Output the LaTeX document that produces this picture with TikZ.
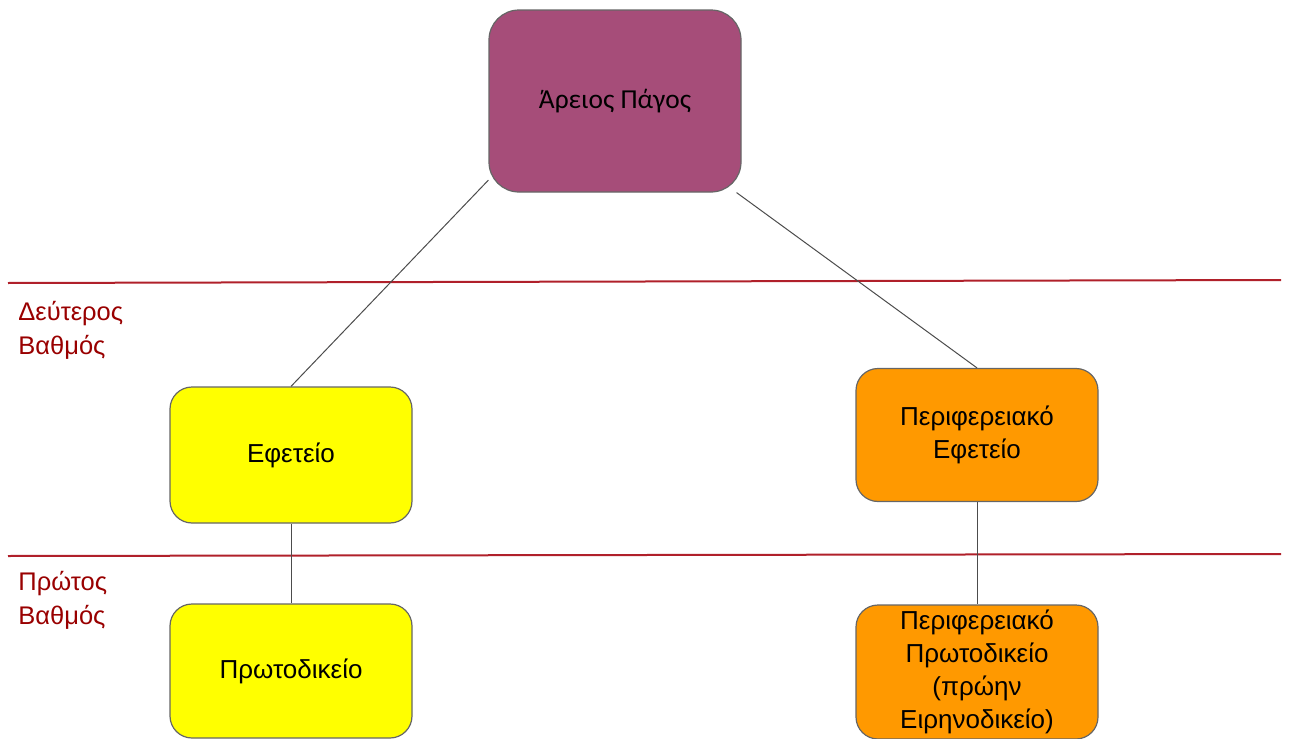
\documentclass[tikz,border=0pt]{standalone}
\usepackage{fontspec}
\setmainfont{Liberation Sans}
\newfontfamily\titlefont{Carlito}
\usepackage{tikz}
\usetikzlibrary{positioning}

\definecolor{apfill}{HTML}{A64D79}
\definecolor{yfill}{HTML}{FFFF00}
\definecolor{ofill}{HTML}{FF9900}
\definecolor{lvlred}{HTML}{B0202A}
\definecolor{lvltext}{HTML}{990000}

\begin{document}
\begin{tikzpicture}[x=0.5pt,y=-0.5pt,
        court/.style={rectangle,rounded corners=11pt,draw=black!60,line width=0.6pt,
            minimum width=121pt,minimum height=67pt,align=center,inner sep=1pt,
            font=\fontsize{13}{16.5}\selectfont},
        level/.style={anchor=west,align=left,inner sep=0pt,text=lvltext,
            font=\fontsize{12.75}{17}\selectfont},
        sep/.style={draw=lvlred,line width=1pt},
        link/.style={draw=black!70,line width=0.5pt}
    ]
    \useasboundingbox (0,0) rectangle (1292,739);

    %--- levels ---
    \coordinate (s1l) at (8,283);
    \coordinate (s1r) at (1281,280);
    \coordinate (s2l) at (8,556);
    \coordinate (s2r) at (1281,554);
    \draw[sep] (s1l) -- (s1r);
    \draw[sep] (s2l) -- (s2r);
    \node[level] (deut) at (18,330) {Δεύτερος\\Βαθμός};
    \node[level] (prot) at (18,600) {Πρώτος\\Βαθμός};

    %--- courts ---
    \node[court,fill=apfill,rounded corners=15pt,minimum width=126pt,minimum height=91pt,
        font=\titlefont\fontsize{13.7}{16}\selectfont] (ap) at (615,101) {Άρειος Πάγος};
    \node[court,fill=yfill,minimum height=68pt] (ef) at (291,455) {Εφετείο};
    \node[court,fill=yfill] (pr) at (291,671) {Πρωτοδικείο};
    \node[court,fill=ofill,minimum height=66.5pt] (pef) at (977,435) {Περιφερειακό\\Εφετείο};
    \node[court,fill=ofill] (ppr) at (977,672) {Περιφερειακό\\Πρωτοδικείο\\(πρώην\\Ειρηνοδικείο)};

    %--- links ---
    \draw[link] (ap.212) -- (ef.north);
    \draw[link] (ap.-37) -- (pef.north);
    \draw[link] (ef.south) -- (pr.north);
    \draw[link] (pef.south) -- (ppr.north);
\end{tikzpicture}
\end{document}
